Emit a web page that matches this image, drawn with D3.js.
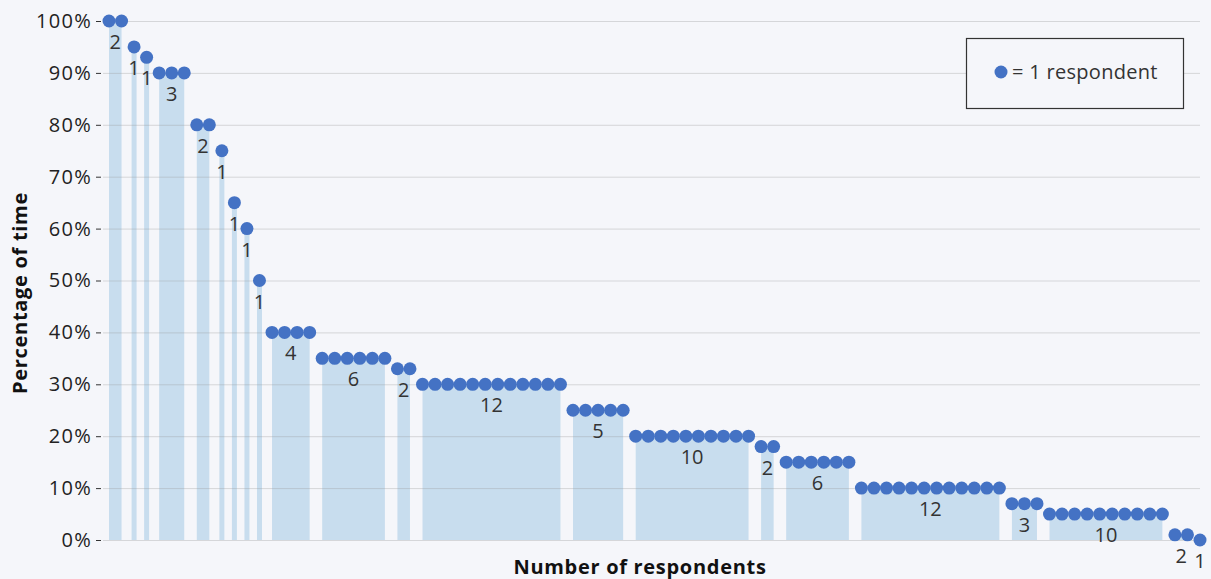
<!DOCTYPE html>
<html>
<head>
<meta charset="utf-8">
<script src="https://cdn.jsdelivr.net/npm/d3@7"></script>
<style>
    body { margin: 0; background: #f5f6fa; }
    svg { display: block; font-family: "Open Sans", sans-serif; }
</style>
</head>
<body>
<div id="chart"></div>
<script>
// percentage of time for each group, and how many respondents gave it
var percents = [100, 95, 93, 90, 80, 75, 65, 60, 50, 40, 35, 33, 30, 25, 20, 18, 15, 10, 7, 5, 1, 0];
var counts = [2, 1, 1, 3, 2, 1, 1, 1, 1, 4, 6, 2, 12, 5, 10, 2, 6, 12, 3, 10, 2, 1];
var yTicks = [0, 10, 20, 30, 40, 50, 60, 70, 80, 90, 100];

function init() {
    var w = 1211;
    var h = 579;

    // build one row per group, with index of first respondent
    var groups = [];
    var start = 0;
    percents.forEach(function (p, i) {
        groups.push({ pct: p, n: counts[i], first: start, last: start + counts[i] - 1 });
        start += counts[i];
    });
    var dots = [];
    groups.forEach(function (g) {
        for (var k = g.first; k <= g.last; k++) dots.push({ idx: k, pct: g.pct });
    });

    var x = d3.scaleLinear()
        .domain([0, start - 1])
        .range([109, 1200]);

    var y = d3.scaleLinear()
        .domain([0, 100])
        .range([540, 21]);

    var svg = d3.select("#chart")
        .append("svg")
        .attr("width", w)
        .attr("height", h);

    svg.append("rect")
        .attr("width", w)
        .attr("height", h)
        .attr("fill", "#f5f6fa");

    // bars behind the dots
    svg.selectAll("rect.bar")
        .data(groups)
        .enter()
        .append("rect")
        .attr("class", "bar")
        .attr("x", function (d) {
            return d.n == 1 ? x(d.first) - 2.5 : x(d.first);
        })
        .attr("width", function (d) {
            return d.n == 1 ? 5 : x(d.last) - x(d.first);
        })
        .attr("y", function (d) { return y(d.pct); })
        .attr("height", function (d) { return y(0) - y(d.pct); })
        .attr("fill", "#c8ddee");

    // grid lines + y axis
    var yAxis = d3.axisLeft(y)
        .tickValues(yTicks)
        .tickFormat(function (d) { return d + "%"; })
        .tickSize(0)
        .tickPadding(0);

    var gy = svg.append("g")
        .attr("transform", "translate(103,0)")
        .call(yAxis);
    gy.select(".domain").remove();
    gy.selectAll(".tick line")
        .attr("x1", 0)
        .attr("x2", 1200 - 103)
        .attr("stroke", "#9a9a9a")
        .attr("stroke-opacity", 0.35);
    gy.selectAll(".tick")
        .append("line")
        .attr("x1", -7)
        .attr("x2", -2)
        .attr("stroke", "#333");
    gy.selectAll(".tick text")
        .attr("x", -11)
        .attr("font-size", "20px")
        .attr("font-family", "Open Sans, sans-serif")
        .attr("letter-spacing", "1.3px")
        .attr("fill", "#222");

    // dots
    svg.selectAll("circle.dot")
        .data(dots)
        .enter()
        .append("circle")
        .attr("class", "dot")
        .attr("cx", function (d) { return x(d.idx); })
        .attr("cy", function (d) { return y(d.pct); })
        .attr("r", 6.5)
        .attr("fill", "#4472c4");

    // count labels under each group
    svg.selectAll("text.count")
        .data(groups)
        .enter()
        .append("text")
        .attr("class", "count")
        .text(function (d) { return d.n; })
        .attr("x", function (d) { return (x(d.first) + x(d.last)) / 2; })
        .attr("y", function (d) { return y(d.pct) + 28; })
        .attr("text-anchor", "middle")
        .attr("font-size", "20px")
        .attr("fill", "#333");

    // legend
    svg.append("rect")
        .attr("x", 966.5)
        .attr("y", 38.5)
        .attr("width", 217)
        .attr("height", 70)
        .attr("fill", "#f5f6fa")
        .attr("stroke", "#333")
        .attr("stroke-width", 1.2);
    svg.append("circle")
        .attr("cx", 1001)
        .attr("cy", 72)
        .attr("r", 6.5)
        .attr("fill", "#4472c4");
    svg.append("text")
        .text("= 1 respondent")
        .attr("x", 1012)
        .attr("y", 79)
        .attr("font-size", "20px")
        .attr("letter-spacing", "0.3px")
        .attr("fill", "#333");

    // axis titles
    svg.append("text")
        .text("Number of respondents")
        .attr("x", 640)
        .attr("y", 574)
        .attr("text-anchor", "middle")
        .attr("font-size", "20px")
        .attr("letter-spacing", "0.7px")
        .attr("font-weight", "bold")
        .attr("fill", "#111");

    svg.append("text")
        .text("Percentage of time")
        .attr("transform", "translate(27,293) rotate(-90)")
        .attr("text-anchor", "middle")
        .attr("font-size", "20px")
        .attr("letter-spacing", "0.7px")
        .attr("font-weight", "bold")
        .attr("fill", "#111");
}

window.onload = init;
</script>
</body>
</html>
